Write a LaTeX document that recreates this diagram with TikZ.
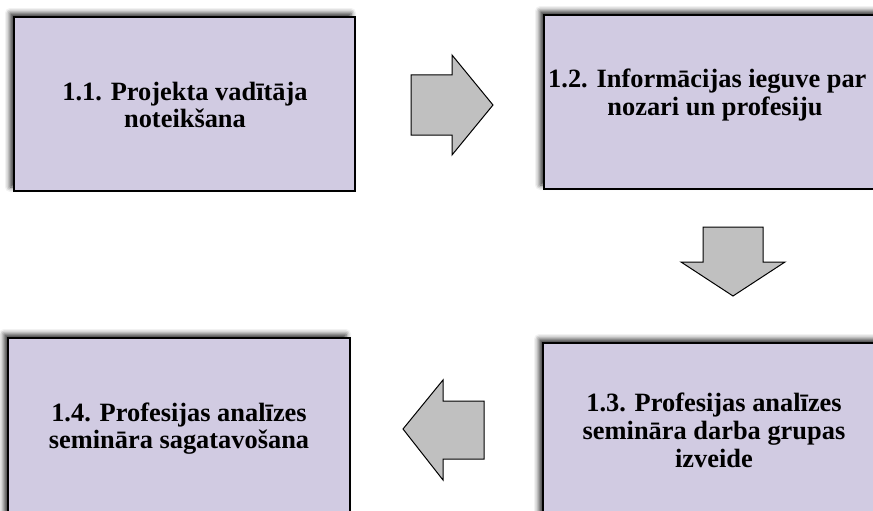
\documentclass[tikz,border=0pt]{standalone}
\usepackage{fontspec}
\setmainfont{Liberation Serif}
\usetikzlibrary{shadows.blur}
\definecolor{boxfill}{RGB}{209,203,226}
\definecolor{arrowfill}{RGB}{192,192,192}
\tikzset{
  stagebox/.style={draw=black, line width=2.8pt, fill=boxfill,
    blur shadow={shadow xshift=-4pt, shadow yshift=4pt, shadow blur radius=5pt, shadow opacity=80}},
  stagetext/.style={font=\bfseries\fontsize{26.4}{27.5}\selectfont, anchor=base, inner sep=0pt},
  blockarrow/.style={draw=black, line width=1pt, fill=arrowfill, line join=miter}
}
\begin{document}
\begin{tikzpicture}[x=1pt,y=-1pt]
\useasboundingbox (0,0) rectangle (873,511);
\clip (0,0) rectangle (873,511);
% boxes
\path[stagebox] (14,17) rectangle (355,191);
\path[stagebox] (544,15) rectangle (895,189);
\path[stagebox] (543,343) rectangle (895,540);
\path[stagebox] (8,338) rectangle (350,540);
% texts
\node[stagetext] (t1a) at (185,100) {1.1. Projekta vadītāja};
\node[stagetext] (t1b) at (185,127) {noteikšana};
\node[stagetext, anchor=base west] (t2a) at (548,88) {1.2. Informācijas ieguve par};
\node[stagetext] (t2b) at (715,115) {nozari un profesiju};
\node[stagetext] (t3a) at (714,411) {1.3. Profesijas analīzes};
\node[stagetext] (t3b) at (714,439) {semināra darba grupas};
\node[stagetext] (t3c) at (714,467) {izveide};
\node[stagetext] (t4a) at (179,421) {1.4. Profesijas analīzes};
\node[stagetext] (t4b) at (179,448) {semināra sagatavošana};
% arrows
\draw[blockarrow] (411,75) -- (452,75) -- (452,55) -- (493,105) -- (452,155) -- (452,135) -- (411,135) -- cycle;
\draw[blockarrow] (703,227) -- (763,227) -- (763,262) -- (785,262) -- (733,296) -- (681,262) -- (703,262) -- cycle;
\draw[blockarrow] (484,401) -- (443,401) -- (443,380) -- (403,429) -- (443,480) -- (443,459) -- (484,459) -- cycle;
\end{tikzpicture}
\end{document}
